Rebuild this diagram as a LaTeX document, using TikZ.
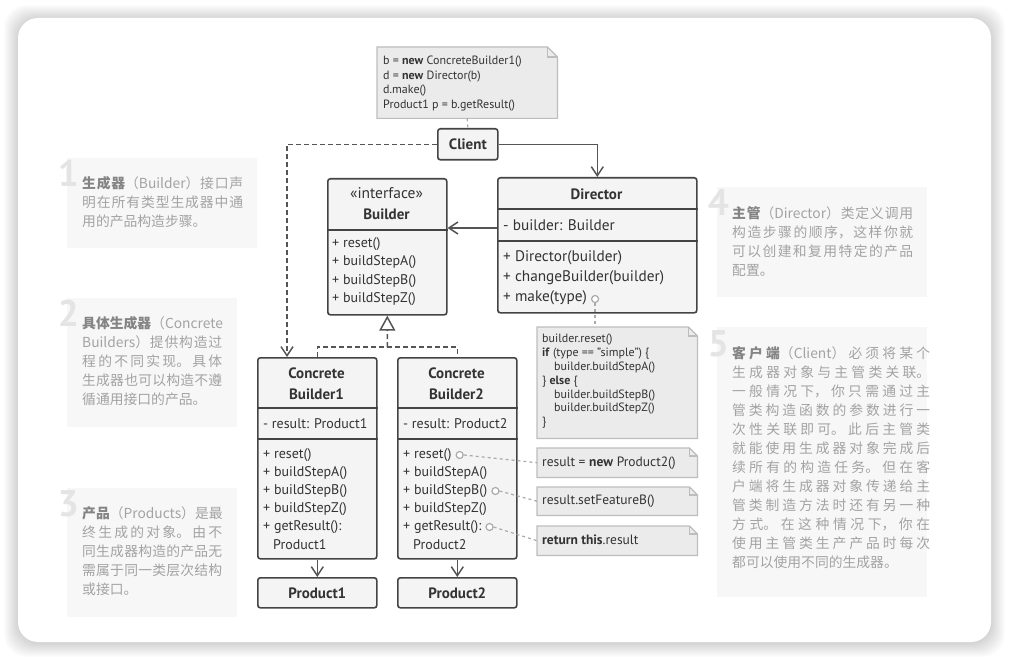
\documentclass[tikz,border=0pt]{standalone}
\usepackage{fontspec}
\setmainfont{PT Sans}
\newfontfamily\cjk{Noto Sans CJK SC}
\usetikzlibrary{arrows.meta,calc}
\definecolor{ink}{HTML}{333333}
\definecolor{boxline}{HTML}{444444}
\definecolor{boxfill}{HTML}{F4F4F4}
\definecolor{notefill}{HTML}{EBEBEB}
\definecolor{noteline}{HTML}{BDBDBD}
\definecolor{wire}{HTML}{555555}
\definecolor{hint}{HTML}{AAAAAA}
\definecolor{cardbg}{HTML}{F7F7F7}
\definecolor{cntxt}{HTML}{A3A3A3}
\definecolor{cnbold}{HTML}{848484}
\definecolor{bignum}{HTML}{E4E4E4}
\newcommand\cnsetup{\parindent=0pt\XeTeXlinebreaklocale "zh"\XeTeXlinebreakskip=0pt plus 4pt\relax\XeTeXlinebreakpenalty=10000\relax}
\newcommand\lead[1]{{\color{cnbold}\bfseries #1}}
\newcommand\mknote[2]{%
  \path[fill=notefill,draw=noteline,line width=1.2pt] (#1.north west) -- ([xshift=-#2pt]#1.north east) -- ([yshift=-#2pt]#1.north east) -- (#1.south east) -- (#1.south west) -- cycle;
  \draw[noteline,line width=1.2pt] ([xshift=-#2pt]#1.north east) -- ([xshift=-#2pt,yshift=-#2pt]#1.north east) -- ([yshift=-#2pt]#1.north east);}
\begin{document}
\begin{tikzpicture}[x=1pt,y=-1pt,
  umlbox/.style={draw=boxline,line width=1.6pt,fill=boxfill,rounded corners=2.5pt,inner sep=0pt,anchor=north west},
  umltitle/.style={font=\bfseries\fontsize{15}{18}\selectfont,text=ink,inner sep=0pt},
  mtxt/.style={font=\fontsize{14}{16}\selectfont,text=ink,inner sep=0pt,anchor=west},
  dtxt/.style={font=\fontsize{15.3}{17}\selectfont,text=ink,inner sep=0pt,anchor=west},
  ntxt/.style={font=\fontsize{12}{14}\selectfont,text=ink,inner sep=0pt,anchor=west},
  notearea/.style={inner sep=0pt,anchor=north west},
  sepline/.style={draw=boxline,line width=1.6pt},
  wireline/.style={draw=wire,line width=1.5pt},
  openarrow/.style={-{Straight Barb[length=9pt,width=12pt,line width=1.5pt]}},
  dashline/.style={dash pattern=on 5pt off 3pt},
  hintline/.style={draw=hint,line width=1.2pt,dash pattern=on 3pt off 3pt},
  hintcirc/.style={circle,draw=hint,line width=1.2pt,fill=white,minimum size=7pt,inner sep=0pt},
  cardbox/.style={fill=cardbg,draw=none},
  numtxt/.style={font=\bfseries\fontsize{37}{37}\selectfont,text=bignum,inner sep=0pt,anchor=base east},
  cntext/.style={font=\cjk\fontsize{13.8}{19}\selectfont,text=cntxt,inner sep=0pt,anchor=north west,align=justify}
]
\useasboundingbox (0,0) rectangle (1009,660);
\fill[white] (0,0) rectangle (1009,660);
\foreach \i in {1,...,14} {\fill[black,opacity=0.012,rounded corners=22pt] ({18-\i},{19-\i}) rectangle ({991+\i},{643+\i});}
\fill[white,rounded corners=20pt] (18,18) rectangle (991,642);

% ---------- explanation blocks ----------
\fill[cardbox] (67,158) rectangle (257,248);
\node[numtxt] (n1) at (79,187) {1};
\node[cntext,text width=161pt] (t1) at (82,176) {\cnsetup\lead{生成器}（Builder）接口声\linebreak 明在所有类型生成器中通\linebreak 用的产品构造步骤。};

\fill[cardbox] (67,298) rectangle (237,427);
\node[numtxt] (n2) at (79,326) {2};
\node[cntext,text width=140pt] (t2) at (82,316) {\cnsetup\lead{具体生成器}（Concrete\linebreak Builders）提供构造过\linebreak 程的不同实现。具体\linebreak 生成器也可以构造不遵\linebreak 循通用接口的产品。};

\fill[cardbox] (67,488) rectangle (237,617);
\node[numtxt] (n3) at (79,516) {3};
\node[cntext,text width=140pt] (t3) at (82,506) {\cnsetup\lead{产品}（Products）是最\linebreak 终生成的对象。由不\linebreak 同生成器构造的产品无\linebreak 需属于同一类层次结构\linebreak 或接口。};

\fill[cardbox] (717,187) rectangle (927,297);
\node[numtxt] (n4) at (729,216) {4};
\node[cntext,text width=181pt] (t4) at (732,206) {\cnsetup\lead{主管}（Director）类定义调用\linebreak 构造步骤的顺序，这样你就\linebreak 可以创建和复用特定的产品\linebreak 配置。};

\fill[cardbox] (717,327) rectangle (927,597);
\node[numtxt] (n5) at (729,356) {5};
\node[cntext,text width=198pt] (t5) at (732,346) {\cnsetup\lead{客户端}（Client）必须将某个\linebreak 生成器对象与主管类关联。\linebreak 一般情况下，你只需通过主\linebreak 管类构造函数的参数进行一\linebreak 次性关联即可。此后主管类\linebreak 就能使用生成器对象完成后\linebreak 续所有的构造任务。但在客\linebreak 户端将生成器对象传递给主\linebreak 管类制造方法时还有另一种\linebreak 方式。在这种情况下，你在\linebreak 使用主管类生产产品时每次\linebreak 都可以使用不同的生成器。};

% ---------- top note ----------
\node[notearea,minimum width=180pt,minimum height=71pt] (topnote) at (377,47) {};
\mknote{topnote}{10}
\node[ntxt] (tn1) at (383,62) {b = \textbf{new} ConcreteBuilder1()};
\node[ntxt] (tn2) at (383,76.5) {d = \textbf{new} Director(b)};
\node[ntxt] (tn3) at (383,91) {d.make()};
\node[ntxt] (tn4) at (383,105.5) {Product1 p = b.getResult()};

% ---------- client ----------
\node[umlbox,minimum width=60pt,minimum height=31pt,font=\bfseries\fontsize{15}{18}\selectfont,text=ink] (client) at (437,128) {Client};

% ---------- builder interface ----------
\node[umlbox,minimum width=119pt,minimum height=136pt] (builder) at (327,178) {};
\draw[sepline] ([yshift=-52pt]builder.north west) -- ([yshift=-52pt]builder.north east);
\node[umltitle,font=\fontsize{15.5}{18}\selectfont] (bh1) at (386.5,193) {«interface»};
\node[umltitle] (bh2) at (386.5,214) {Builder};
\node[mtxt] (bm1) at (332,244) {+ reset()};
\node[mtxt] (bm2) at (332,262) {+ buildStepA()};
\node[mtxt] (bm3) at (332,281) {+ buildStepB()};
\node[mtxt] (bm4) at (332,299) {+ buildStepZ()};

% ---------- director ----------
\node[umlbox,minimum width=199pt,minimum height=135pt] (director) at (497,177) {};
\draw[sepline] ([yshift=-32pt]director.north west) -- ([yshift=-32pt]director.north east);
\draw[sepline] ([yshift=-64pt]director.north west) -- ([yshift=-64pt]director.north east);
\node[umltitle] (dh) at (596.5,194) {Director};
\node[dtxt] (df) at (503,225) {- builder: Builder};
\node[dtxt] (dm1) at (503,258) {+ Director(builder)};
\node[dtxt] (dm2) at (503,278) {+ changeBuilder(builder)};
\node[dtxt] (dm3) at (503,298) {+ make(type)};

% ---------- director note ----------
\node[notearea,minimum width=160pt,minimum height=111pt] (note2) at (537,327) {};
\mknote{note2}{9}
\node[ntxt] (nl1) at (542,340) {builder.reset()};
\node[ntxt] (nl2) at (542,353.8) {\textbf{if} (type == "simple") \{};
\node[ntxt] (nl3) at (554,367.6) {builder.buildStepA()};
\node[ntxt] (nl4) at (542,381.4) {\} \textbf{else} \{};
\node[ntxt] (nl5) at (554,395.2) {builder.buildStepB()};
\node[ntxt] (nl6) at (554,409) {builder.buildStepZ()};
\node[ntxt] (nl7) at (542,422.8) {\}};

% ---------- concrete builders ----------
\node[umlbox,minimum width=119pt,minimum height=201pt] (cb1) at (257,357) {};
\draw[sepline] ([yshift=-51pt]cb1.north west) -- ([yshift=-51pt]cb1.north east);
\draw[sepline] ([yshift=-82pt]cb1.north west) -- ([yshift=-82pt]cb1.north east);
\node[umltitle] (c1h1) at (316.5,373) {Concrete};
\node[umltitle] (c1h2) at (316.5,394) {Builder1};
\node[mtxt] (c1f) at (263,424) {- result: Product1};
\node[mtxt] (c1m1) at (263,455) {+ reset()};
\node[mtxt] (c1m2) at (263,473) {+ buildStepA()};
\node[mtxt] (c1m3) at (263,491) {+ buildStepB()};
\node[mtxt] (c1m4) at (263,509) {+ buildStepZ()};
\node[mtxt] (c1m5) at (263,527) {+ getResult():};
\node[mtxt] (c1m6) at (273,545) {Product1};

\node[umlbox,minimum width=119pt,minimum height=201pt] (cb2) at (397,357) {};
\draw[sepline] ([yshift=-51pt]cb2.north west) -- ([yshift=-51pt]cb2.north east);
\draw[sepline] ([yshift=-82pt]cb2.north west) -- ([yshift=-82pt]cb2.north east);
\node[umltitle] (c2h1) at (456.5,373) {Concrete};
\node[umltitle] (c2h2) at (456.5,394) {Builder2};
\node[mtxt] (c2f) at (403,424) {- result: Product2};
\node[mtxt] (c2m1) at (403,455) {+ reset()};
\node[mtxt] (c2m2) at (403,473) {+ buildStepA()};
\node[mtxt] (c2m3) at (403,491) {+ buildStepB()};
\node[mtxt] (c2m4) at (403,509) {+ buildStepZ()};
\node[mtxt] (c2m5) at (403,527) {+ getResult():};
\node[mtxt] (c2m6) at (413,545) {Product2};

% ---------- products ----------
\node[umlbox,minimum width=119pt,minimum height=30pt,font=\bfseries\fontsize{15}{18}\selectfont,text=ink] (p1) at (257,577) {Product1};
\node[umlbox,minimum width=119pt,minimum height=30pt,font=\bfseries\fontsize{15}{18}\selectfont,text=ink] (p2) at (397,577) {Product2};

% ---------- method notes ----------
\node[notearea,minimum width=160pt,minimum height=29pt] (na) at (537,448) {};
\mknote{na}{8}
\node[ntxt,font=\fontsize{13.5}{15}\selectfont] (nat) at (542,463) {result = \textbf{new} Product2()};
\node[notearea,minimum width=160pt,minimum height=28pt] (nb) at (537,487) {};
\mknote{nb}{8}
\node[ntxt,font=\fontsize{13.5}{15}\selectfont] (nbt) at (542,501) {result.setFeatureB()};
\node[notearea,minimum width=160pt,minimum height=29pt] (nc) at (537,526) {};
\mknote{nc}{8}
\node[ntxt,font=\fontsize{13.5}{15}\selectfont] (nct) at (542,540) {\textbf{return this}.result};

% ---------- connectors ----------
\draw[hintline] (topnote.south) -- (client.north);
\draw[wireline,openarrow] (client.east) -| (director.north);
\draw[wireline,dashline,openarrow] (client.west) -| ($(cb1.north west)+(30,0)$);
\coordinate (dA) at ($(director.north west)+(0,51)$);
\draw[wireline,openarrow] (dA) -- (dA -| builder.east);
\coordinate (jn) at ($(cb1.north)!0.5!(cb2.north)+(0,-10)$);
\draw[wireline,dashline] (cb1.north) |- (jn) -| (cb2.north);
\draw[wireline,dashline,-{Triangle[fill=white,length=15pt,width=16pt,line width=1.5pt]}] (jn) -- (builder.south);
\draw[wireline,openarrow] (cb1.south) -- (p1.north);
\draw[wireline,openarrow] (cb2.south) -- (p2.north);

\node[hintcirc] (mkc) at ($(dm3.east)+(8,1)$) {};
\draw[hintline] (mkc.south) -- (mkc.south |- note2.north);
\node[hintcirc] (k1) at ($(c2m1.east)+(8,0)$) {};
\draw[hintline] (k1.east) -- (na.west);
\node[hintcirc] (k3) at ($(c2m3.east)+(8,0)$) {};
\draw[hintline] (k3.east) -- (nb.west);
\node[hintcirc] (k5) at ($(c2m5.east)+(8,0)$) {};
\draw[hintline] (k5.east) -- (nc.west);
\end{tikzpicture}
\end{document}
